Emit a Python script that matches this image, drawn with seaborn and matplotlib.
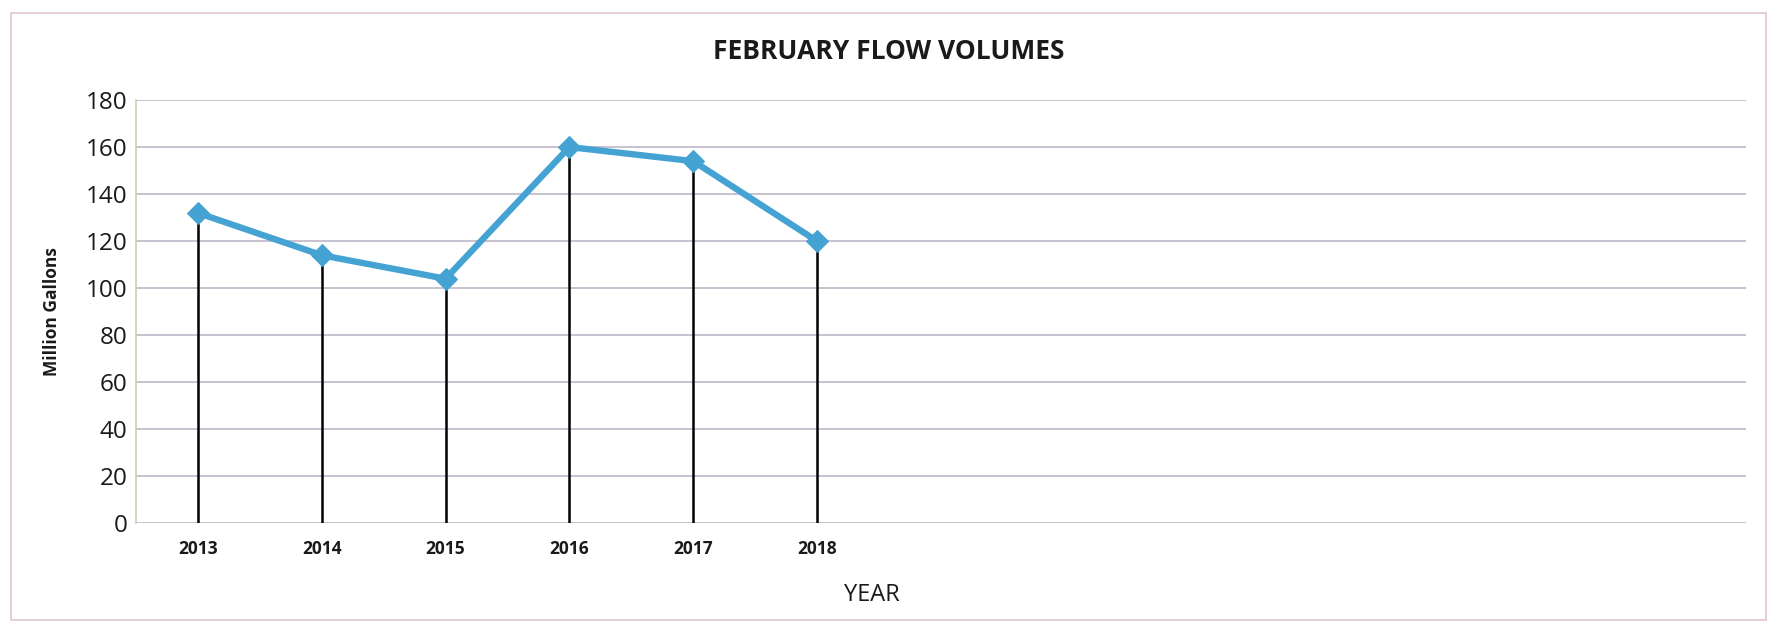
import matplotlib.pyplot as plt
import numpy as np
import pandas as pd
import seaborn as sns
from matplotlib.patches import Rectangle

years = ["2013", "2014", "2015", "2016", "2017", "2018"]
flow_mg = [132, 114, 104, 160, 154, 120]
y_ticks = [0, 20, 40, 60, 80, 100, 120, 140, 160, 180]
n_slots = 13

LINE_COLOR = "#45a3d3"
GRID_COLOR = "#c4bccb"


def main() -> None:
    sns.set_theme(style="white")
    plt.rcParams["font.family"] = ["Open Sans", "DejaVu Sans"]

    df = pd.DataFrame({"year": years, "flow": flow_mg})
    df["pos"] = np.arange(len(df))

    fig = plt.figure(figsize=(17.77, 6.29), dpi=100)
    ax = fig.add_axes([0.0765, 0.168, 0.906, 0.673])

    for t in y_ticks:
        ax.axhline(t, color=GRID_COLOR, lw=1.3, zorder=0)

    # Excel-style drop lines
    ax.vlines(df["pos"], 0, df["flow"], color="black", lw=1.8, zorder=2)

    sns.lineplot(
        data=df, x="pos", y="flow", ax=ax, color=LINE_COLOR, lw=4.6,
        marker="D", markersize=11, markeredgecolor=LINE_COLOR, zorder=3,
    )

    ax.set_xlim(-0.5, n_slots - 0.5)
    ax.set_ylim(0, 180)
    ax.set_yticks(y_ticks)
    ax.set_yticklabels([str(t) for t in y_ticks], fontsize=17.5, color="#1a1a1a")
    ax.set_xticks(df["pos"])
    ax.set_xticklabels(years, fontsize=12.5, fontweight="bold", color="#1a1a1a")
    ax.tick_params(axis="x", length=0, pad=12)
    ax.tick_params(axis="y", length=0, pad=6)

    for side in ["top", "right", "bottom"]:
        ax.spines[side].set_visible(False)
    ax.spines["left"].set_color("#c8d0b0")
    ax.spines["left"].set_linewidth(1.2)

    ax.set_xlabel("YEAR", fontsize=17, color="#1a1a1a")
    ax.set_ylabel("Million Gallons", fontsize=12.5, fontweight="bold", color="#1a1a1a", labelpad=18)
    ax.xaxis.set_label_coords(0.457, -0.14)

    fig.text(0.5, 0.918, "FEBRUARY FLOW VOLUMES", ha="center", va="center",
             fontsize=19, fontweight="bold", color="#1a1a1a")

    fig.patches.append(Rectangle((0.006, 0.015), 0.988, 0.965, transform=fig.transFigure,
                                 fill=False, edgecolor="#e0c8cc", lw=1.2))

    fig.savefig("out.png", dpi=100)
    plt.close(fig)


if __name__ == "__main__":
    main()
